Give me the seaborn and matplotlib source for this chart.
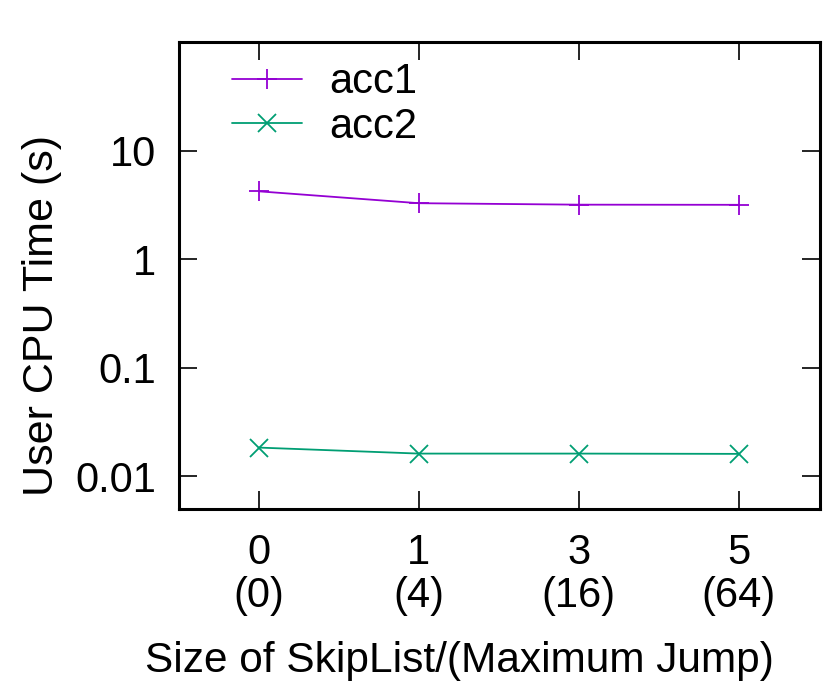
import numpy as np
import pandas as pd
import matplotlib
matplotlib.use("Agg")
import matplotlib.pyplot as plt
import seaborn as sns

sns.set_style("ticks")
plt.rcParams['font.family'] = ['Liberation Sans', 'DejaVu Sans']
plt.rcParams['text.color'] = 'black'
plt.rcParams['axes.labelcolor'] = 'black'
plt.rcParams['xtick.color'] = 'black'
plt.rcParams['ytick.color'] = 'black'

# data
skip_sizes = ["0", "1", "3", "5"]
max_jumps = ["(0)", "(4)", "(16)", "(64)"]
acc1 = [4.22, 3.28, 3.18, 3.17]
acc2 = [0.0184, 0.0162, 0.0162, 0.0161]

pos = np.arange(len(skip_sizes))
tick_labels = [f"{s}\n{j}" for s, j in zip(skip_sizes, max_jumps)]

fig = plt.figure(figsize=(8.3, 6.9), dpi=100)
ax = fig.add_axes([0.2157, 0.2623, 0.7723, 0.6767])

c1, c2 = "#9400d3", "#009e73"
sns.lineplot(x=pos, y=acc1, ax=ax, color=c1, marker="+", markersize=14,
             markeredgewidth=1.3, markeredgecolor=c1, linewidth=1.3, label="acc1")
sns.lineplot(x=pos, y=acc2, ax=ax, color=c2, marker="x", markersize=13,
             markeredgewidth=1.3, markeredgecolor=c2, linewidth=1.3, label="acc2")

ax.set_yscale("log")
ax.set_ylim(0.005, 100)
ax.set_xlim(-0.5, 3.51)
ax.set_yticks([0.01, 0.1, 1, 10])
ax.set_yticklabels(["0.01", "0.1", "1", "10"])
ax.yaxis.set_minor_locator(matplotlib.ticker.NullLocator())
ax.set_xticks(pos)
ax.set_xticklabels(tick_labels, linespacing=1.1)

ax.tick_params(axis="both", which="major", direction="in", length=13, width=1.2,
               labelsize=30, top=True, right=True)
ax.tick_params(axis="x", pad=17)
ax.tick_params(axis="y", pad=16.5)
for sp in ax.spines.values():
    sp.set_linewidth(2.2)
    sp.set_color("black")

ax.set_ylabel("User CPU Time (s)", fontsize=31)
ax.set_xlabel("Size of SkipList/(Maximum Jump)", fontsize=30.5)
ax.yaxis.set_label_coords(-0.183, 0.415)
ax.xaxis.set_label_coords(0.437, -0.283)

leg = ax.legend(loc="upper left", frameon=False, fontsize=30, handlelength=1.68,
                handletextpad=0.65, labelspacing=0.1, borderaxespad=0.2,
                bbox_to_anchor=(0.044, 1.01))

fig.savefig("out.png", dpi=100)
